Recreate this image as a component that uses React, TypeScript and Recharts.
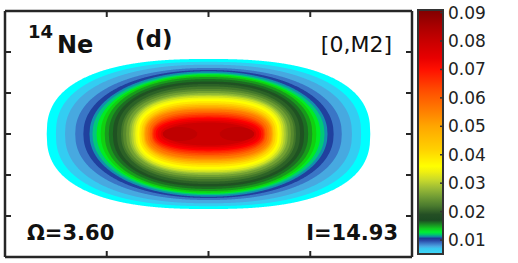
import React from 'react';
import { ComposedChart, Area, XAxis, YAxis, ReferenceArea } from 'recharts';

// ---- Contour levels of the density (filled contours, outer -> inner) ----
const levelValues = [0.0055, 0.007, 0.008, 0.009, 0.010, 0.011, 0.012, 0.013, 0.0145, 0.016, 0.0175, 0.019, 0.021, 0.023, 0.025, 0.027, 0.029, 0.031, 0.033, 0.035, 0.037, 0.040, 0.043, 0.046, 0.049, 0.052, 0.055, 0.058, 0.061, 0.064, 0.067, 0.070, 0.073, 0.076, 0.079, 0.082, 0.082];
const levelColors = ['#00ffff', '#33cdf2', '#47a9e0', '#3a76c6', '#20409e', '#128fae', '#00c87a', '#00ec22', '#10d010', '#189a1c', '#1c6e22', '#1f5222', '#2c6226', '#42772a', '#588a2e', '#72a032', '#8fb834', '#aecd30', '#cfe222', '#eef612', '#ffff00', '#ffe800', '#ffd000', '#ffbb00', '#ffa600', '#ff9000', '#ff7a00', '#ff6200', '#ff4a00', '#ff3200', '#ff1a00', '#ff0000', '#ee0000', '#dd0000', '#cc0000', '#bf0000', '#bf0000'];
// centre (x), half-width (x) and half-height (y) of each contour, in axis units
const levelCenterX = [0, 0, 0, 0, 0, 0, 0, 0, 0, 0, 0, 0, 0, 0, 0, 0, 0, 0, 0, 0, 0, 0, 0, 0, 0, 0, 0, 0, 0, 0, 0, 0, 0, 0, 0, -0.28, 0.28];
const levelHalfWidth = [1.59, 1.50, 1.41, 1.31, 1.23, 1.17, 1.14, 1.10, 1.06, 1.02, 0.98, 0.94, 0.90, 0.86, 0.84, 0.81, 0.78, 0.76, 0.74, 0.72, 0.70, 0.68, 0.66, 0.64, 0.63, 0.62, 0.60, 0.58, 0.56, 0.55, 0.54, 0.52, 0.50, 0.47, 0.42, 0.17, 0.17];
const levelHalfHeight = [1.83, 1.76, 1.69, 1.61, 1.56, 1.53, 1.49, 1.46, 1.43, 1.39, 1.34, 1.28, 1.22, 1.16, 1.10, 1.05, 1.00, 0.96, 0.93, 0.89, 0.85, 0.80, 0.75, 0.71, 0.67, 0.63, 0.60, 0.55, 0.51, 0.47, 0.43, 0.40, 0.36, 0.32, 0.28, 0.17, 0.17];
const levelShape = [2.5, 2.4, 2.3, 2.2, 2.15, 2.1, 2.1, 2.1, 2.15, 2.2, 2.2, 2.25, 2.3, 2.3, 2.35, 2.4, 2.4, 2.45, 2.5, 2.5, 2.5, 2.5, 2.5, 2.5, 2.5, 2.5, 2.5, 2.45, 2.4, 2.4, 2.35, 2.3, 2.3, 2.2, 2.2, 2.0, 2.0];

// ---- Axes ----
const xDomain: [number, number] = [-2, 2];
const yDomain: [number, number] = [-3, 3];
const xTicks = [-1, 0, 1];
const yTicks = [-2, -1, 0, 1, 2];

// ---- Colour bar ----
const cbMin = 0.0051;
const cbMax = 0.0909;
const cbTicks = [0.01, 0.02, 0.03, 0.04, 0.05, 0.06, 0.07, 0.08, 0.09];
const cmapValues = [0.0051, 0.0070, 0.0078, 0.0088, 0.0098, 0.0106, 0.0112, 0.0120, 0.0128, 0.0140, 0.0155, 0.0170, 0.0190, 0.0220, 0.0250, 0.0280, 0.0310, 0.0340, 0.0360, 0.0420, 0.0500, 0.0560, 0.0630, 0.0700, 0.0740, 0.0800, 0.0850, 0.0909];
const cmapColors = ['#40d8f8', '#38c8f0', '#4aa6e2', '#3c78c8', '#2a4aa8', '#1c3a96', '#0e8aa0', '#00cc66', '#00ee33', '#11cc22', '#1a8a22', '#1c4a22', '#244f24', '#4a7a2e', '#6e9a34', '#98b936', '#c6d82c', '#f0f010', '#ffff00', '#ffd000', '#ffa600', '#ff7a00', '#ff4a00', '#ff1000', '#e80000', '#c80000', '#aa0000', '#800000'];

// ---- Annotations ----
const nucleusMass = '14';
const nucleusName = 'Ne';
const panelLabel = '(d)';
const configLabel = '[0,M2]';
const omegaLabel = 'Ω=3.60';
const spinLabel = 'I=14.93';

// Build the table the Areas need: one row per x, each level a [low, high] range
const xSet = new Set<number>();
for (let i = -400; i <= 400; i++) xSet.add(i / 200);
levelValues.forEach((_, k) => {
  xSet.add(+(levelCenterX[k] - levelHalfWidth[k]).toFixed(6));
  xSet.add(+(levelCenterX[k] + levelHalfWidth[k]).toFixed(6));
});
const xs = Array.from(xSet).sort((a, b) => a - b);
const plotData = xs.map((x) => {
  const row: Record<string, any> = { x };
  levelValues.forEach((_, k) => {
    const d = Math.abs(x - levelCenterX[k]) / levelHalfWidth[k];
    if (d <= 1 + 1e-7) {
      const p = levelShape[k];
      const t = Math.max(0, 1 - Math.pow(Math.min(d, 1), p));
      const h = levelHalfHeight[k] * Math.pow(t, 1 / p);
      row['L' + k] = [-h, h];
    } else {
      row['L' + k] = null;
    }
  });
  return row;
});

const cbData = [{ x: 0 }, { x: 1 }];
const frameColor = '#262626';
const axisLineStyle = { stroke: frameColor, strokeWidth: 2.5 };
const tickLineStyle = { stroke: frameColor, strokeWidth: 2 };
const blank = () => '';

export default function App() {
  return (
    <div style={{ position: 'absolute', left: 0, top: 0, width: 518, height: 263, background: '#fff', overflow: 'hidden' }}>
      <div style={{ position: 'absolute', left: 0, top: 0 }}>
        <ComposedChart width={518} height={263} data={plotData} margin={{ top: 11, right: 106, bottom: 6, left: 5 }}>
          {levelValues.map((v, k) => (
            <Area
              key={'L' + k}
              xAxisId="b"
              yAxisId="l"
              type="linear"
              dataKey={'L' + k}
              stroke="none"
              fill={levelColors[k]}
              fillOpacity={1}
              isAnimationActive={false}
              dot={false}
              activeDot={false}
              connectNulls={false}
            />
          ))}
          <XAxis xAxisId="b" dataKey="x" type="number" domain={xDomain} ticks={xTicks} orientation="bottom" mirror allowDataOverflow tickFormatter={blank} tickSize={6} axisLine={axisLineStyle} tickLine={tickLineStyle} />
          <XAxis xAxisId="t" dataKey="x" type="number" domain={xDomain} ticks={xTicks} orientation="top" mirror allowDataOverflow tickFormatter={blank} tickSize={6} axisLine={axisLineStyle} tickLine={tickLineStyle} />
          <YAxis yAxisId="l" type="number" domain={yDomain} ticks={yTicks} orientation="left" mirror allowDataOverflow tickFormatter={blank} tickSize={6} axisLine={axisLineStyle} tickLine={tickLineStyle} />
          <YAxis yAxisId="r" type="number" domain={yDomain} ticks={yTicks} orientation="right" mirror allowDataOverflow tickFormatter={blank} tickSize={6} axisLine={axisLineStyle} tickLine={tickLineStyle} />
        </ComposedChart>
      </div>
      <div style={{ position: 'absolute', left: 400, top: 0 }}>
        <ComposedChart width={118} height={263} data={cbData} margin={{ top: 10, right: 0, bottom: 9, left: 18 }}>
          <defs>
            <linearGradient id="cbGrad" x1="0" y1="0" x2="0" y2="1">
              {cmapValues.map((v, i) => (
                <stop key={i} offset={(cbMax - v) / (cbMax - cbMin)} stopColor={cmapColors[i]} />
              )).reverse()}
            </linearGradient>
          </defs>
          <XAxis dataKey="x" type="number" domain={[0, 1]} hide />
          <YAxis yAxisId="c" type="number" domain={[cbMin, cbMax]} hide allowDataOverflow />
          <ReferenceArea yAxisId="c" x1={0} x2={1} y1={cbMin} y2={cbMax} fill="url(#cbGrad)" fillOpacity={1} stroke="#333" strokeWidth={2} ifOverflow="visible" />
          <YAxis yAxisId="in" type="number" domain={[cbMin, cbMax]} ticks={cbTicks} orientation="right" mirror allowDataOverflow tickFormatter={blank} tickSize={3} axisLine={false} tickLine={{ stroke: '#333', strokeWidth: 1.5 }} />
          <YAxis yAxisId="lab" type="number" domain={[cbMin, cbMax]} ticks={cbTicks} orientation="right" width={75} allowDataOverflow axisLine={false} tickLine={false} tickSize={3} tickMargin={2} tickFormatter={(v: number) => v.toFixed(2)} tick={{ fontFamily: 'DejaVu Sans', fontSize: 17, fill: '#222' }} />
        </ComposedChart>
      </div>
      <svg width={518} height={263} style={{ position: 'absolute', left: 0, top: 0, pointerEvents: 'none' }}>
        <g fontFamily="DejaVu Sans" fill="#111">
          <text x={28} y={38} fontSize={18} fontWeight="bold">{nucleusMass}</text>
          <text x={57} y={53} fontSize={24} fontWeight="bold">{nucleusName}</text>
          <text x={135} y={46.5} fontSize={23} fontWeight="bold">{panelLabel}</text>
          <text x={392} y={51.5} fontSize={22} textAnchor="end">{configLabel}</text>
          <text x={27} y={240} fontSize={21} fontWeight="bold">{omegaLabel}</text>
          <text x={398} y={240} fontSize={21} fontWeight="bold" textAnchor="end">{spinLabel}</text>
        </g>
      </svg>
    </div>
  );
}
